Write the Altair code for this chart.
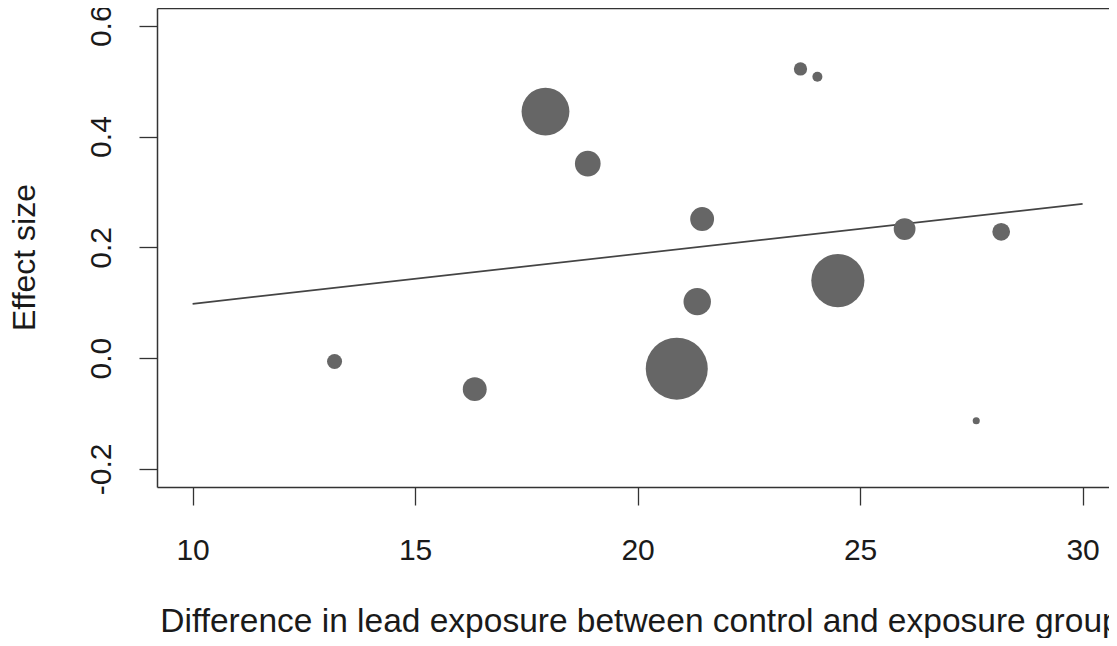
import altair as alt
import pandas as pd

# Study-level data
lead_diff = [13.19, 16.34, 17.93, 18.88, 20.88, 21.34, 21.45, 23.66, 24.04, 24.50, 26.00, 27.61, 28.17]
effect_size = [-0.006, -0.056, 0.445, 0.351, -0.019, 0.102, 0.251, 0.522, 0.508, 0.140, 0.233, -0.113, 0.228]
study_weight = [72, 182, 729, 210, 1225, 240, 182, 56, 32, 900, 151, 16, 100]

# Meta-regression line end points
line_x = [10, 30]
line_y = [0.098, 0.2785]

x_ticks = [10, 15, 20, 25, 30]
y_ticks = [-0.2, 0.0, 0.2, 0.4, 0.6]

pts = pd.DataFrame({"x": lead_diff, "y": effect_size, "w": study_weight})
reg = pd.DataFrame({"x": line_x, "y": line_y})

FONT = "Liberation Sans"
TXT = "#1a1a1a"
AX = "#333333"

W, H = 952, 479
x_scale = alt.Scale(domain=[9.2, 30.593], nice=False, zero=False)
y_scale = alt.Scale(domain=[-0.2326, 0.632], nice=False, zero=False)

x_axis = alt.Axis(
    values=x_ticks, grid=False,
    domain=True, domainColor=AX, domainWidth=1.5,
    tickSize=18, tickColor=AX, tickWidth=1.3,
    labelFont=FONT, labelFontSize=30, labelColor=TXT,
    labelBaseline="alphabetic", labelPadding=54,
    labelFlush=False, labelOverlap=False,
    title="Difference in lead exposure between control and exposure group",
    titleFont=FONT, titleFontSize=33.5, titleFontWeight="normal", titleColor=TXT,
    titleX=483, titleY=144, titleAlign="center", titleBaseline="alphabetic",
)

# top frame line only
x_axis_top = alt.Axis(
    orient="top", values=x_ticks, grid=False,
    domain=True, domainColor=AX, domainWidth=1.5,
    ticks=False, labels=False, title=None,
)

y_axis = alt.Axis(
    values=y_ticks, grid=False,
    domain=True, domainColor=AX, domainWidth=1.5,
    tickSize=18, tickColor=AX, tickWidth=1.3,
    labelFont=FONT, labelFontSize=30, labelColor=TXT,
    labelAngle=270, labelAlign="center", labelBaseline="alphabetic",
    labelPadding=29, labelFlush=False, labelOverlap=False,
    labelExpr="datum.value < 0 ? '-' + format(-datum.value, '.1f') : format(datum.value, '.1f')",
    title="Effect size",
    titleFont=FONT, titleFontSize=32, titleFontWeight="normal", titleColor=TXT,
    titleAngle=270, titleX=-123, titleY=249, titleAlign="center", titleBaseline="alphabetic",
)

points = alt.Chart(pts).mark_circle(color="#666666", opacity=1).encode(
    x=alt.X("x:Q", scale=x_scale, axis=x_axis),
    y=alt.Y("y:Q", scale=y_scale, axis=y_axis),
    size=alt.Size("w:Q", scale=alt.Scale(domain=[0, 1225], range=[0, 3848], zero=True), legend=None),
)

line = alt.Chart(reg).mark_line(color="#444444", strokeWidth=1.7).encode(
    x=alt.X("x:Q", scale=x_scale, axis=x_axis_top),
    y=alt.Y("y:Q", scale=y_scale, axis=y_axis),
)

chart = alt.layer(line, points).resolve_axis(x="independent").properties(
    width=W, height=H,
    autosize=alt.AutoSizeParams(type="none"),
    padding={"left": 149, "top": 0, "right": 0, "bottom": 151},
).configure(
    background="white",
    view=alt.ViewConfig(stroke=None, strokeWidth=0),
)

chart.save("out.html", embed_options={"renderer": "svg", "actions": False})
